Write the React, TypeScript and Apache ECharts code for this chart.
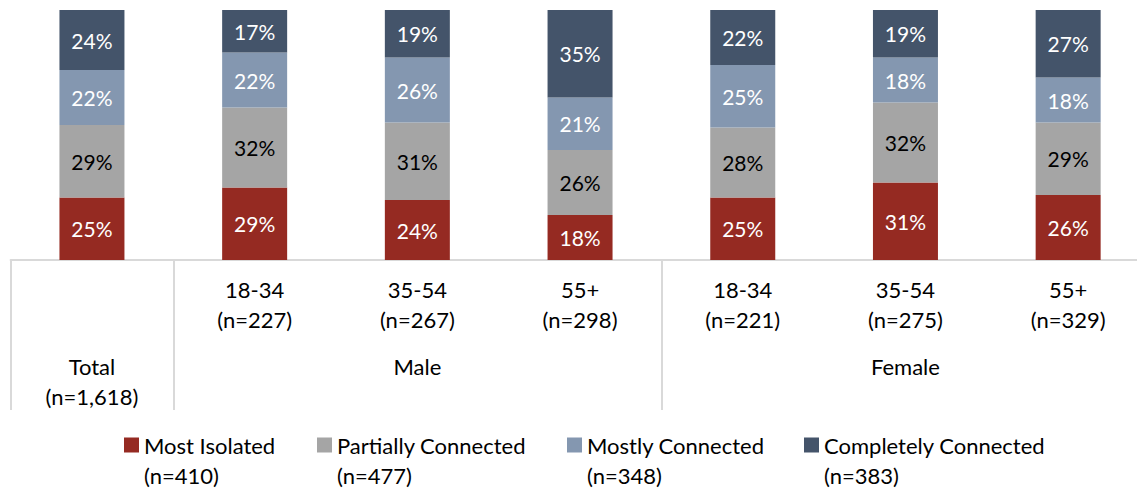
import React, { useEffect, useRef } from "react";
import * as echarts from "echarts";

// Bars: Total, then Male and Female by age band
const categoryIds = ["Total", "M 18-34", "M 35-54", "M 55+", "F 18-34", "F 35-54", "F 55+"];
const ageBands = ["", "18-34", "35-54", "55+", "18-34", "35-54", "55+"];
const barSizes = ["", "227", "267", "298", "221", "275", "329"];
const groupLabels = ["Total\n(n=1,618)", "", "Male", "", "", "Female", ""];

// Segment shares (%) per bar, bottom to top
const mostIsolated = [25, 29, 24, 18, 25, 31, 26];
const partiallyConnected = [29, 32, 31, 26, 28, 32, 29];
const mostlyConnected = [22, 22, 26, 21, 25, 18, 18];
const completelyConnected = [24, 17, 19, 35, 22, 19, 27];

const seriesNames = ["Most Isolated", "Partially Connected", "Mostly Connected", "Completely Connected"];
const seriesSizes = ["410", "477", "348", "383"];
const seriesColors = ["#952A22", "#A5A5A5", "#8497B0", "#44546A"];
const labelColors = ["#ffffff", "#000000", "#ffffff", "#ffffff"];
const legendLeft = [124, 317, 567, 804];

const FONT = "Lato, 'Noto Sans', sans-serif";
const LINE = "#d9d9d9";
// The plot runs a little past the right edge of the visible frame
const CHART_W = 1150;

export default function App() {
  const ref = useRef<HTMLDivElement>(null);

  useEffect(() => {
    if (!ref.current) return;
    const chart = echarts.init(ref.current, undefined, { renderer: "svg" });
    const values = [mostIsolated, partiallyConnected, mostlyConnected, completelyConnected];

    chart.setOption({
      animation: false,
      textStyle: { fontFamily: FONT },
      grid: { left: 10.6, right: 0.5, top: 10, height: 250, containLabel: false },
      xAxis: [
        {
          type: "category",
          data: categoryIds,
          position: "bottom",
          axisLine: { show: true, lineStyle: { color: LINE, width: 2 } },
          axisTick: {
            show: true,
            length: 150,
            interval: (index: number) => index === 0 || index === 1 || index === 4,
            lineStyle: { color: LINE, width: 2 },
          },
          axisLabel: {
            interval: 0,
            margin: 14,
            fontFamily: FONT,
            fontSize: 22,
            lineHeight: 30,
            color: "#000",
            formatter: (_v: string, i: number) => (ageBands[i] ? `${ageBands[i]}\n(n=${barSizes[i]})` : ""),
          },
        },
        {
          type: "category",
          data: categoryIds,
          position: "bottom",
          axisLine: { show: false },
          axisTick: { show: false },
          axisLabel: {
            interval: 0,
            margin: 91,
            fontFamily: FONT,
            fontSize: 22,
            lineHeight: 30,
            color: "#000",
            formatter: (_v: string, i: number) => groupLabels[i],
          },
        },
      ],
      yAxis: { type: "value", min: 0, max: 100, show: false },
      legend: seriesNames.map((name, i) => ({
        data: [name],
        left: legendLeft[i],
        top: 400,
        padding: 0,
        icon: "rect",
        itemWidth: 15,
        itemHeight: 15,
        selectedMode: false,
        // leading blank line keeps the first text line level with the swatch
        formatter: (n: string) => `\n${n}\n(n=${seriesSizes[seriesNames.indexOf(n)]})`,
        textStyle: {
          fontFamily: FONT,
          fontSize: 22,
          lineHeight: 30,
          color: "#000",
        },
      })),
      series: values.map((arr, i) => ({
        name: seriesNames[i],
        type: "bar",
        stack: "share",
        barWidth: 65,
        data: arr,
        itemStyle: { color: seriesColors[i] },
        label: {
          show: true,
          position: "inside",
          formatter: "{c}%",
          fontFamily: FONT,
          fontSize: 21,
          color: labelColors[i],
        },
      })),
    });

    return () => chart.dispose();
  }, []);

  return (
    <div style={{ position: "fixed", left: 0, top: 0, width: 1137, height: 489, overflow: "hidden", background: "#fff" }}>
      <div ref={ref} style={{ width: CHART_W, height: 489 }} />
    </div>
  );
}
